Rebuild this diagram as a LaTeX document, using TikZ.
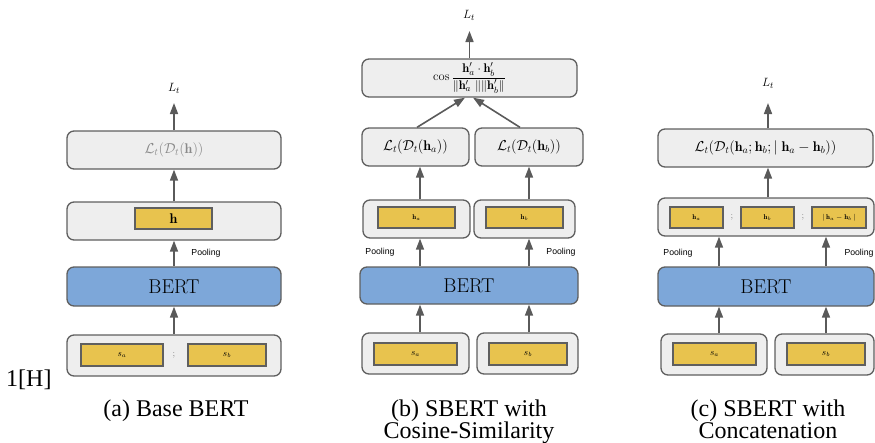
\documentclass[tikz,border=0pt]{standalone}
\usepackage{amsmath}
\usepackage{fontspec}
\newfontfamily\capfont{Liberation Serif}
\newfontfamily\poolfont{Liberation Sans}
\usetikzlibrary{arrows.meta}
\definecolor{boxgray}{HTML}{EEEEEE}
\definecolor{edgegray}{HTML}{5F5F5F}
\definecolor{bertblue}{HTML}{7DA7D9}
\definecolor{vecyellow}{HTML}{E8C34E}
\definecolor{arrowgray}{HTML}{5A5A5A}
\definecolor{lossgray}{HTML}{8A8A8A}
\begin{document}
\begin{tikzpicture}[x=1pt,y=-1pt,
  panel/.style={draw=edgegray, line width=1.3pt, fill=boxgray, rounded corners=7pt, inner sep=0pt},
  bertbox/.style={panel, fill=bertblue, font=\fontsize{20}{24}\selectfont},
  vec/.style={draw=edgegray, line width=1.1pt, fill=vecyellow, inner sep=0pt, minimum height=21pt},
  arr/.style={draw=arrowgray, line width=1.6pt, -{Triangle[width=8pt,length=11pt]}},
  pool/.style={font=\poolfont\fontsize{8.7}{10}\selectfont},
  captext/.style={font=\capfont\fontsize{24}{28}\selectfont, anchor=base},
  mathlbl/.style={font=\fontsize{14}{17}\selectfont},
  outlbl/.style={font=\fontsize{13}{15}\selectfont},
  tinylbl/.style={font=\fontsize{7}{8}\selectfont},
  inlbl/.style={font=\fontsize{9}{11}\selectfont},
  semi/.style={font=\fontsize{9}{11}\selectfont, text=edgegray},
]
\useasboundingbox (0,0) rectangle (875,442);

% ---------- (a) Base BERT ----------
\node[outlbl] (aL) at (174,88) {$L_t$};
\coordinate (aTop) at (174,103);
\node[panel, minimum width=214pt, minimum height=38pt, mathlbl, text=lossgray] (aLoss) at (174,150) {$\mathcal{L}_t(\mathcal{D}_t(\mathbf{h}))$};
\node[panel, minimum width=214pt, minimum height=38pt] (aPool) at (174,221) {};
\node[vec, minimum width=77pt, font=\fontsize{14}{17}\selectfont] (aH) at (173.5,218.5) {$\mathbf{h}$};
\node[bertbox, minimum width=214pt, minimum height=39pt] (aBert) at (174,286.5) {BERT};
\node[panel, minimum width=214pt, minimum height=41pt] (aIn) at (174,355.5) {};
\node[vec, minimum width=82pt, minimum height=22pt, inlbl] (aSa) at (122,355) {$s_a$};
\node[semi] (aSemi) at (174,355) {;};
\node[vec, minimum width=78pt, minimum height=22pt, inlbl] (aSb) at (227,355) {$s_b$};
\node[pool] (aPoolLbl) at (206,253) {Pooling};
\draw[arr] (aIn) -- (aBert);
\draw[arr] (aBert) -- (aPool);
\draw[arr] (aPool) -- (aLoss);
\draw[arr] (aLoss) -- (aTop);
\node[font=\capfont\fontsize{24}{28}\selectfont, anchor=base west, inner sep=0pt] (stray) at (6,386) {1[H]};
\node[captext] (capA) at (176,416) {(a) Base BERT};

% ---------- (b) SBERT with cosine similarity ----------
\coordinate (bColA) at (420,0);
\coordinate (bColB) at (529,0);
\coordinate (bJoinA) at (465,0);
\coordinate (bJoinB) at (473,0);
\coordinate (bDiagA) at (417,0);
\coordinate (bDiagB) at (520,0);
\node[outlbl] (bL) at (469,15) {$L_t$};
\coordinate (bTop) at (469.5,31);
\node[panel, minimum width=215pt, minimum height=38pt, font=\fontsize{12.5}{15}\selectfont] (bCos) at (469.5,78)
  {$\cos\dfrac{\mathbf{h}'_a\cdot\mathbf{h}'_b}{\|\mathbf{h}'_a\ \|\|\mathbf{h}'_b\|}$};
\node[panel, minimum width=107pt, minimum height=38pt, mathlbl] (bLA) at (415.5,147) {$\mathcal{L}_t(\mathcal{D}_t(\mathbf{h}_a))$};
\node[panel, minimum width=108pt, minimum height=38pt, mathlbl] (bLB) at (529,147) {$\mathcal{L}_t(\mathcal{D}_t(\mathbf{h}_b))$};
\node[panel, minimum width=107pt, minimum height=38pt] (bHA) at (416.5,219) {};
\node[vec, minimum width=77pt, tinylbl] (bVA) at (416.5,217.5) {$\mathbf{h}_a$};
\node[panel, minimum width=101pt, minimum height=38pt] (bHB) at (524.5,219) {};
\node[vec, minimum width=77pt, tinylbl] (bVB) at (524.5,217.5) {$\mathbf{h}_b$};
\node[pool] (bPoolA) at (380,252) {Pooling};
\node[pool] (bPoolB) at (561,252) {Pooling};
\node[bertbox, minimum width=218pt, minimum height=37pt] (bBert) at (469,285.5) {BERT};
\node[panel, minimum width=107pt, minimum height=41pt] (bInA) at (415.5,353.5) {};
\node[vec, minimum width=83pt, minimum height=22pt, inlbl] (bSa) at (415.5,354) {$s_a$};
\node[panel, minimum width=101pt, minimum height=41pt] (bInB) at (527.5,353.5) {};
\node[vec, minimum width=78pt, minimum height=22pt, inlbl] (bSb) at (528,354) {$s_b$};
\draw[arr] (bInA.north -| bColA) -- (bBert.south -| bColA);
\draw[arr] (bInB.north -| bColB) -- (bBert.south -| bColB);
\draw[arr] (bBert.north -| bColA) -- (bHA.south -| bColA);
\draw[arr] (bBert.north -| bColB) -- (bHB.south -| bColB);
\draw[arr] (bHA.north -| bColA) -- (bLA.south -| bColA);
\draw[arr] (bHB.north -| bColB) -- (bLB.south -| bColB);
\draw[arr] (bLA.north -| bDiagA) -- (bCos.south -| bJoinA);
\draw[arr] (bLB.north -| bDiagB) -- (bCos.south -| bJoinB);
\draw[arr] (bCos) -- (bTop);
\node[captext] (capB1) at (469,416) {(b) SBERT with};
\node[captext] (capB2) at (469,438) {Cosine-Similarity};

% ---------- (c) SBERT with concatenation ----------
\coordinate (cColA) at (719,0);
\coordinate (cColB) at (826,0);
\node[outlbl] (cL) at (768,83) {$L_t$};
\coordinate (cTop) at (768,103);
\coordinate (cMid) at (768,0);
\node[panel, minimum width=215pt, minimum height=38pt, mathlbl] (cLoss) at (765.5,148)
  {$\mathcal{L}_t(\mathcal{D}_t(\mathbf{h}_a;\mathbf{h}_b;|\;\mathbf{h}_a-\mathbf{h}_b))$};
\node[panel, minimum width=216pt, minimum height=38pt] (cCat) at (766,217) {};
\node[vec, minimum width=53pt, tinylbl] (cVA) at (696.5,217.5) {$\mathbf{h}_a$};
\node[semi] (cSemiA) at (732,217.5) {;};
\node[vec, minimum width=53pt, tinylbl] (cVB) at (767.5,217.5) {$\mathbf{h}_b$};
\node[semi] (cSemiB) at (803,217.5) {;};
\node[vec, minimum width=54pt, tinylbl] (cVD) at (839,217.5) {$|\,\mathbf{h}_a-\mathbf{h}_b\,|$};
\node[pool] (cPoolA) at (678,253) {Pooling};
\node[pool] (cPoolB) at (859,253) {Pooling};
\node[bertbox, minimum width=216pt, minimum height=39pt] (cBert) at (766,286.5) {BERT};
\node[panel, minimum width=106pt, minimum height=41pt] (cInA) at (714,354.5) {};
\node[vec, minimum width=83pt, minimum height=22pt, inlbl] (cSa) at (714.5,354) {$s_a$};
\node[panel, minimum width=99pt, minimum height=41pt] (cInB) at (824.5,354.5) {};
\node[vec, minimum width=78pt, minimum height=22pt, inlbl] (cSb) at (826,354) {$s_b$};
\draw[arr] (cInA.north -| cColA) -- (cBert.south -| cColA);
\draw[arr] (cInB.north -| cColB) -- (cBert.south -| cColB);
\draw[arr] (cBert.north -| cColA) -- (cCat.south -| cColA);
\draw[arr] (cBert.north -| cColB) -- (cCat.south -| cColB);
\draw[arr] (cCat.north -| cMid) -- (cLoss.south -| cMid);
\draw[arr] (cLoss.north -| cMid) -- (cTop);
\node[captext] (capC1) at (768,416) {(c) SBERT with};
\node[captext] (capC2) at (768,438) {Concatenation};
\end{tikzpicture}
\end{document}
